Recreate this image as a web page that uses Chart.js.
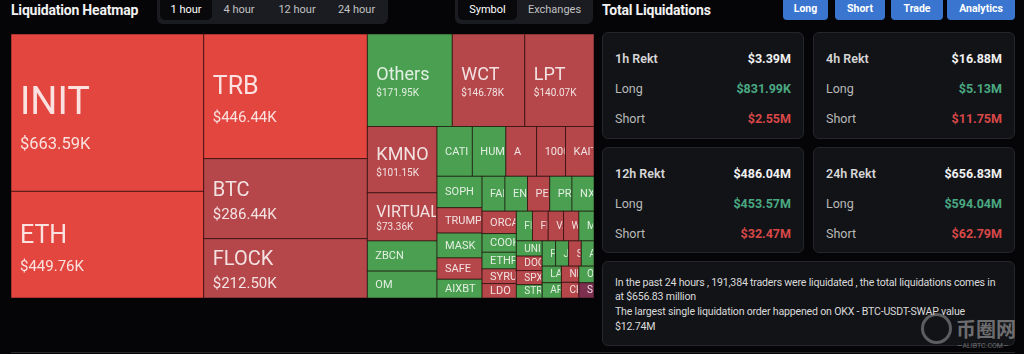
<!DOCTYPE html>
<html>
<head>
<meta charset="utf-8">
<title>Liquidation Heatmap</title>
<script src="https://cdn.jsdelivr.net/npm/chart.js@4.4.1/dist/chart.umd.min.js"></script>
<style>
  html, body { margin: 0; padding: 0; }
  body { width: 1024px; height: 354px; overflow: hidden; position: relative; background: #050508; font-family: Roboto, "Noto Sans", sans-serif; color: #e8e8e8; }
  .abs { position: absolute; }
  .title { top: 0; height: 20px; line-height: 20px; font-size: 14px; font-weight: 700; letter-spacing: -0.2px; color: #f2f2f2; white-space: nowrap; }
  .group { top: -6px; height: 30px; background: #1b1c21; border-radius: 6px; }
  .tab { position: absolute; top: 2px; height: 24px; line-height: 28px; font-size: 11px; color: #c2c2c2; text-align: center; white-space: nowrap; }
  .tab.on { background: #09090c; color: #fff; border-radius: 5px; }
  .btn { position: absolute; top: -4px; height: 24px; line-height: 25px; background: #3a76d0; color: #fff; font-size: 10.5px; font-weight: 700; border-radius: 4px; text-align: center; }
  .panel { position: absolute; background: #121317; border: 1px solid #25262b; border-radius: 6px; box-sizing: border-box; }
  .row { position: absolute; left: 12px; right: 12px; height: 16px; line-height: 16px; font-size: 12.5px; white-space: nowrap; }
  .row .k { position: absolute; left: 0; color: #b9b9b9; }
  .row .v { position: absolute; right: 0; font-weight: 700; }
  .row.head .k { color: #d6d6d6; font-weight: 600; }
  .row.head .v { color: #f0f0f0; }
  .up { color: #4aa982; }
  .down { color: #d94848; }
  .note { padding: 13.5px 0 0 12px; font-size: 10.6px; line-height: 14.7px; color: #dadada; letter-spacing: -0.2px; white-space: nowrap; }
  #heat { position: absolute; left: 11px; top: 34px; }
</style>
</head>
<body>

<div class="abs title" style="left:11px;">Liquidation Heatmap</div>
<div class="abs group" id="timeTabs" style="left:157px;width:231px;"></div>
<div class="abs group" id="viewTabs" style="left:455px;width:138px;"></div>

<div class="abs title" style="left:602px;">Total Liquidations</div>
<div id="btns"></div>

<canvas id="heat" width="583" height="264"></canvas>

<div id="panels"></div>

<div class="abs" style="left:11px;top:352px;width:1004px;height:1px;background:#26272c;"></div>

<div class="abs" style="left:921px;top:313px;width:25px;height:25px;border:3px solid rgba(185,185,185,0.45);border-radius:50%;"></div>
<div class="abs" style="left:956px;top:314px;font-size:20px;font-weight:700;color:rgba(200,200,200,0.5);font-family:'Noto Sans CJK SC',sans-serif;">币圈网</div>
<div class="abs" style="left:957px;top:342px;font-size:7px;color:rgba(200,200,200,0.5);white-space:nowrap;">—ALIBTC.COM—</div>

<script>
// header tabs / buttons
const timeTabs = ['1 hour', '4 hour', '12 hour', '24 hour'];
const viewTabs = ['Symbol', 'Exchanges'];
const actionButtons = ['Long', 'Short', 'Trade', 'Analytics'];

// treemap: liquidations per coin in the last hour ($K)
const coins = ['INIT', 'ETH', 'TRB', 'BTC', 'FLOCK', 'Others', 'WCT', 'LPT', 'KMNO', 'VIRTUAL',
  'ZBCN', 'OM', 'CATI', 'HUMA', 'A', '1000SATS', 'KAITO', 'SOPH', 'TRUMP', 'MASK', 'SAFE', 'AIXBT',
  'FARTCOIN', 'ENA', 'PEPE', 'PRAI', 'NXPC', 'ORCA', 'COOKIE', 'ETHFI', 'SYRUP', 'LDO',
  'FLOKI', 'FLUX', 'VANA', 'WIF', 'MOVE', 'UNI', 'DOGE', 'SPX', 'STRK', 'PNUT', 'JUP', 'SUI', 'ADA',
  'LAYER', 'ARB', 'NEAR', 'CRV', 'OP', 'SIGN'];
const liqK = [663.59, 449.76, 446.44, 286.44, 212.50, 171.95, 146.78, 140.07, 101.15, 73.36,
  46, 41, 38.5, 36.5, 33.5, 31.5, 31, 31, 25, 24.5, 21, 18.5,
  17.5, 17.2, 17, 17, 16.8, 16.8, 14, 12.5, 11, 10.8,
  10.5, 10.2, 10, 10, 9.8, 8.6, 8.2, 8, 7.5, 7.4, 7.2, 7, 7,
  7, 6.4, 6.2, 6, 5.5, 5];
// dominant side of the liquidations: S2 = heavy short, S = short, L = long, M = mixed
const side = ['S2', 'S2', 'S2', 'S', 'S', 'L', 'S', 'S', 'S', 'S',
  'L', 'L', 'L', 'L', 'S', 'S', 'S', 'L', 'S', 'L', 'S', 'L',
  'L', 'L', 'S', 'L', 'L', 'S', 'L', 'L', 'S', 'S',
  'L', 'S', 'S', 'S', 'L', 'L', 'S', 'S', 'L', 'L', 'L', 'S', 'L',
  'L', 'L', 'S', 'S', 'L', 'M'];

// summary panels ($M)
const periods = ['1h', '4h', '12h', '24h'];
const rektTotal = [3.39, 16.88, 486.04, 656.83];
const rektLong = [0.83199, 5.13, 453.57, 594.04];
const rektShort = [2.55, 11.75, 32.47, 62.79];

const noteLines = [
  'In the past 24 hours , 191,384 traders were liquidated , the total liquidations comes in',
  'at $656.83 million',
  'The largest single liquidation order happened on OKX - BTC-USDT-SWAP value',
  '$12.74M'
];

// ---------- html parts ----------
function addTabs(el, labels, spans) {
  labels.forEach((t, i) => {
    const d = document.createElement('div');
    d.className = 'tab' + (i === 0 ? ' on' : '');
    d.style.left = spans[i][0] + 'px';
    d.style.width = spans[i][1] + 'px';
    d.textContent = t;
    el.appendChild(d);
  });
}
addTabs(document.getElementById('timeTabs'), timeTabs, [[3, 52], [54, 56], [112, 56], [171, 57]]);
addTabs(document.getElementById('viewTabs'), viewTabs, [[3, 59], [64, 71]]);

const btnSpans = [[783, 45], [835, 50], [891, 52], [947, 68]];
actionButtons.forEach((t, i) => {
  const b = document.createElement('div');
  b.className = 'btn';
  b.style.left = btnSpans[i][0] + 'px';
  b.style.width = btnSpans[i][1] + 'px';
  b.textContent = t;
  document.getElementById('btns').appendChild(b);
});

function money(m) {
  return m < 1 ? '$' + (m * 1000).toFixed(2) + 'K' : '$' + m.toFixed(2) + 'M';
}
const panelBoxes = [[602, 32, 107], [813, 32, 107], [602, 147, 106], [813, 147, 106]];
const panelsEl = document.getElementById('panels');
periods.forEach((p, i) => {
  const box = document.createElement('div');
  box.className = 'panel';
  box.style.left = panelBoxes[i][0] + 'px';
  box.style.top = panelBoxes[i][1] + 'px';
  box.style.width = '202px';
  box.style.height = panelBoxes[i][2] + 'px';
  const rows = [
    ['head', p + ' Rekt', money(rektTotal[i]), ''],
    ['', 'Long', money(rektLong[i]), 'up'],
    ['', 'Short', money(rektShort[i]), 'down']
  ];
  rows.forEach((r, j) => {
    const row = document.createElement('div');
    row.className = 'row ' + r[0];
    row.style.top = (18 + j * 30) + 'px';
    row.innerHTML = '<span class="k">' + r[1] + '</span><span class="v ' + r[3] + '">' + r[2] + '</span>';
    box.appendChild(row);
  });
  panelsEl.appendChild(box);
});
const note = document.createElement('div');
note.className = 'panel note';
note.style.left = '602px';
note.style.top = '261px';
note.style.width = '413px';
note.style.height = '85px';
note.innerHTML = noteLines.join('<br>');
panelsEl.appendChild(note);

// ---------- treemap ----------
function squarify(values, x0, y0, x1, y1) {
  const ratio = (1 + Math.sqrt(5)) / 2;
  const out = [];
  const n = values.length;
  let i0 = 0, i1 = 0;
  let value = values.reduce((a, b) => a + b, 0);
  while (i0 < n) {
    const dx = x1 - x0, dy = y1 - y0;
    let sum = values[i1++];
    let minV = sum, maxV = sum;
    const alpha = Math.max(dy / dx, dx / dy) / (value * ratio);
    let beta = sum * sum * alpha;
    let minRatio = Math.max(maxV / beta, beta / minV);
    for (; i1 < n; ++i1) {
      const v = values[i1];
      sum += v;
      if (v < minV) minV = v;
      if (v > maxV) maxV = v;
      beta = sum * sum * alpha;
      const r = Math.max(maxV / beta, beta / minV);
      if (r > minRatio) { sum -= v; break; }
      minRatio = r;
    }
    if (dx < dy) {
      const h = dy * sum / value;
      let x = x0;
      for (let i = i0; i < i1; i++) { const w = dx * values[i] / sum; out[i] = [x, y0, x + w, y0 + h]; x += w; }
      y0 += h;
    } else {
      const w = dx * sum / value;
      let y = y0;
      for (let i = i0; i < i1; i++) { const h = dy * values[i] / sum; out[i] = [x0, y, x0 + w, y + h]; y += h; }
      x0 += w;
    }
    value -= sum;
    i0 = i1;
  }
  return out;
}

const canvas = document.getElementById('heat');
const W = canvas.width, H = canvas.height;
const tiles = squarify(liqK, 0, 0, W, H).map((r, i) => ({
  x: (r[0] + r[2]) / 2 / W, y: (r[1] + r[3]) / 2 / H,
  x0: r[0] / W, y0: r[1] / H, x1: r[2] / W, y1: r[3] / H,
  name: coins[i], v: liqK[i], side: side[i]
}));

const sideColor = { S2: '#e2463f', S: '#b5474a', L: '#4b9f50', M: '#7d2f4f' };
// label size tiers by tile size (sqrt of area in px)
const tiers = [
  { min: 160, lab: 38, val: 16.5, dy: 1, gap: 35 },
  { min: 130, lab: 25, val: 15, dy: -2, gap: 28 },
  { min: 90, lab: 20, val: 15, dy: -3, gap: 23 },
  { min: 60, lab: 18, val: 10, dy: 0, gap: 16 },
  { min: 50, lab: 16, val: 10, dy: 0, gap: 13 },
  { min: 22, lab: 11, val: 0 },
  { min: 0, lab: 10, val: 0 }
];

const tilePlugin = {
  id: 'tiles',
  afterDatasetsDraw(chart) {
    const { ctx, scales: { x, y } } = chart;
    ctx.save();
    chart.data.datasets[0].data.forEach(p => {
      const l = x.getPixelForValue(p.x0), r = x.getPixelForValue(p.x1);
      const t = y.getPixelForValue(p.y0), b = y.getPixelForValue(p.y1);
      const w = r - l, h = b - t;
      ctx.fillStyle = sideColor[p.side];
      ctx.fillRect(l, t, w, h);
      ctx.strokeStyle = 'rgba(25,8,8,0.55)';
      ctx.lineWidth = 1;
      ctx.strokeRect(l, t, w, h);

      const s = Math.sqrt(w * h);
      const tier = tiers.find(tr => s >= tr.min);
      const cy = (t + b) / 2;
      ctx.save();
      ctx.beginPath();
      ctx.rect(l + 1, t + 1, w - 2, h - 2);
      ctx.clip();
      ctx.fillStyle = 'rgba(255,255,255,0.84)';
      ctx.textAlign = 'left';
      if (tier.val) {
        ctx.textBaseline = 'alphabetic';
        ctx.font = tier.lab + 'px Roboto';
        ctx.fillText(p.name, l + 9, cy + tier.dy);
        ctx.font = tier.val + 'px Roboto';
        ctx.fillText('$' + p.v.toFixed(2) + 'K', l + 9, cy + tier.dy + tier.gap);
      } else {
        ctx.textBaseline = 'middle';
        ctx.font = tier.lab + 'px Roboto';
        ctx.fillText(p.name, l + 8, cy + 0.5);
      }
      ctx.restore();
    });
    ctx.restore();
  }
};

new Chart(canvas.getContext('2d'), {
  type: 'scatter',
  data: { datasets: [{ data: tiles, pointRadius: 0, pointHoverRadius: 0 }] },
  options: {
    responsive: false,
    animation: false,
    events: [],
    layout: { padding: 0 },
    plugins: { legend: { display: false }, tooltip: { enabled: false } },
    scales: {
      x: { type: 'linear', min: 0, max: 1, display: false },
      y: { type: 'linear', min: 0, max: 1, reverse: true, display: false }
    }
  },
  plugins: [tilePlugin]
});
</script>
</body>
</html>
